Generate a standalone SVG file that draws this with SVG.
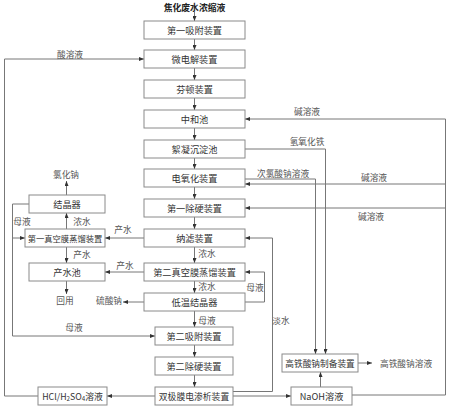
<svg xmlns="http://www.w3.org/2000/svg" width="450" height="409" viewBox="0 0 450 409">
<style>
text{font-family:"Noto Sans CJK SC","Noto Sans",sans-serif;dominant-baseline:central;text-anchor:middle}
.box rect{fill:#fff;stroke:#8a8a8a;stroke-width:1}
.box text{font-size:9.2px;fill:#333}
.lbl{font-size:8.7px;fill:#555}
.title{font-size:8.8px;font-weight:bold;fill:#222}
#connectors path{fill:none;stroke:#777;stroke-width:1}
.arr{marker-end:url(#ah)}
</style>
<defs>
<marker id="ah" markerWidth="5" markerHeight="4" refX="5" refY="2" orient="auto" markerUnits="userSpaceOnUse">
<path d="M0,0 L5,2 L0,4 z" fill="#333"/>
</marker>
</defs>
<rect width="450" height="409" fill="#fff"/>
<text class="title" x="194.5" y="7">焦化废水浓缩液</text>
<g id="connectors">
<path class="arr" d="M194.5,12 V21"/>
<path class="arr" d="M194.5,39 V50"/>
<path class="arr" d="M194.5,68 V80"/>
<path class="arr" d="M194.5,98 V110"/>
<path class="arr" d="M194.5,128 V140"/>
<path class="arr" d="M194.5,158 V169"/>
<path class="arr" d="M194.5,187 V199"/>
<path class="arr" d="M194.5,217 V229"/>
<path class="arr" d="M194.5,247 V263"/>
<path class="arr" d="M194.5,281 V293"/>
<path class="arr" d="M194.5,311 V327"/>
<path class="arr" d="M194.5,345 V357"/>
<path class="arr" d="M194.5,375 V387"/>
<path class="arr" d="M144,238 H105"/>
<path class="arr" d="M66.5,229 V213"/>
<path class="arr" d="M66.5,195 V181"/>
<path class="arr" d="M66.5,247 V263"/>
<path class="arr" d="M66.5,281 V294"/>
<path class="arr" d="M144,272 H105"/>
<path class="arr" d="M144,302 H123"/>
<path class="arr" d="M29,204 H12.5 V336 H155"/>
<path class="arr" d="M12.5,238 H25"/>
<path class="arr" d="M245,302 H264.5 V272 H245"/>
<path class="arr" d="M233,391.5 H272.5 V238 H245"/>
<path class="arr" d="M233,396 H291"/>
<path class="arr" d="M155,396 H107"/>
<path class="arr" d="M38,396 H4.5 V59 H144"/>
<path class="arr" d="M352,395 H445.5 V119 H245"/>
<path class="arr" d="M445.5,184 H245"/>
<path class="arr" d="M445.5,208 H245"/>
<path class="arr" d="M245,149 H325.5 V354"/>
<path class="arr" d="M245,179 H315.5 V354"/>
<path class="arr" d="M320.5,387 V372"/>
<path class="arr" d="M358,363 H372"/>
</g>
<g id="n1" class="box"><rect x="144" y="21" width="101" height="18"/><text x="194.5" y="30">第一吸附装置</text></g>
<g id="n2" class="box"><rect x="144" y="50" width="101" height="18"/><text x="194.5" y="59">微电解装置</text></g>
<g id="n3" class="box"><rect x="144" y="80" width="101" height="18"/><text x="194.5" y="89">芬顿装置</text></g>
<g id="n4" class="box"><rect x="144" y="110" width="101" height="18"/><text x="194.5" y="119">中和池</text></g>
<g id="n5" class="box"><rect x="144" y="140" width="101" height="18"/><text x="194.5" y="149">絮凝沉淀池</text></g>
<g id="n6" class="box"><rect x="144" y="169" width="101" height="18"/><text x="194.5" y="178">电氧化装置</text></g>
<g id="n7" class="box"><rect x="144" y="199" width="101" height="18"/><text x="194.5" y="208">第一除硬装置</text></g>
<g id="n8" class="box"><rect x="144" y="229" width="101" height="18"/><text x="194.5" y="238">纳滤装置</text></g>
<g id="n9" class="box"><rect x="144" y="263" width="101" height="18"/><text x="194.5" y="272">第二真空膜蒸馏装置</text></g>
<g id="n10" class="box"><rect x="144" y="293" width="101" height="18"/><text x="194.5" y="302">低温结晶器</text></g>
<g id="n11" class="box"><rect x="155" y="327" width="78" height="18"/><text x="194" y="336">第二吸附装置</text></g>
<g id="n12" class="box"><rect x="155" y="357" width="78" height="18"/><text x="194" y="366">第二除硬装置</text></g>
<g id="n13" class="box"><rect x="155" y="387" width="78" height="18"/><text x="194" y="396" style="font-size:8.8px">双极膜电渗析装置</text></g>
<g id="n14" class="box"><rect x="29" y="195" width="76" height="18"/><text x="67" y="204">结晶器</text></g>
<g id="n15" class="box"><rect x="25" y="229" width="80" height="18"/><text x="65" y="238" style="font-size:8.3px">第一真空膜蒸馏装置</text></g>
<g id="n16" class="box"><rect x="29" y="263" width="76" height="18"/><text x="67" y="272">产水池</text></g>
<g id="n17" class="box"><rect x="38" y="387" width="69" height="18"/><text x="72.5" y="396" style="font-size:8.8px">HCl/H<tspan font-size="6.2" dy="2">2</tspan><tspan dy="-2">SO</tspan><tspan font-size="6.2" dy="2">4</tspan><tspan dy="-2">溶液</tspan></text></g>
<g id="n18" class="box"><rect x="282" y="354" width="76" height="18"/><text x="320" y="363" style="font-size:8.7px">高铁酸钠制备装置</text></g>
<g id="n19" class="box"><rect x="291" y="387" width="61" height="18"/><text x="321.5" y="396">NaOH溶液</text></g>
<g id="labels">
<text class="lbl" x="70" y="54">酸溶液</text>
<text class="lbl" x="307" y="111">碱溶液</text>
<text class="lbl" x="307" y="141">氢氧化铁</text>
<text class="lbl" x="283" y="173">次氯酸钠溶液</text>
<text class="lbl" x="374" y="177">碱溶液</text>
<text class="lbl" x="371" y="216">碱溶液</text>
<text class="lbl" x="66" y="174">氯化钠</text>
<text class="lbl" x="22" y="221">母液</text>
<text class="lbl" x="82" y="221">浓水</text>
<text class="lbl" x="123" y="229">产水</text>
<text class="lbl" x="82" y="254">产水</text>
<text class="lbl" x="207" y="253">浓水</text>
<text class="lbl" x="125" y="265">产水</text>
<text class="lbl" x="207" y="286">浓水</text>
<text class="lbl" x="255" y="287">母液</text>
<text class="lbl" x="65" y="300">回用</text>
<text class="lbl" x="109" y="300">硫酸钠</text>
<text class="lbl" x="207" y="320">母液</text>
<text class="lbl" x="281" y="320">淡水</text>
<text class="lbl" x="74" y="327">母液</text>
<text class="lbl" x="406" y="363">高铁酸钠溶液</text>
</g>
</svg>
